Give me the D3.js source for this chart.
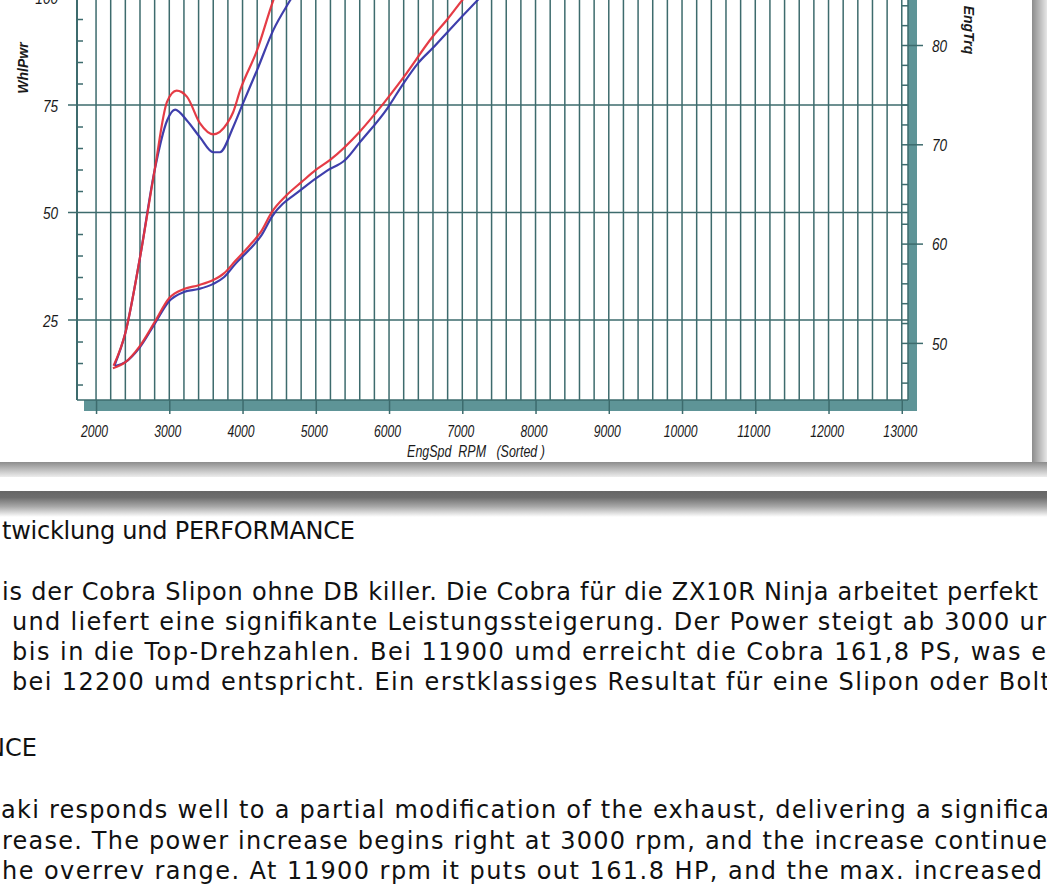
<!DOCTYPE html>
<html><head><meta charset="utf-8">
<script src="https://cdn.jsdelivr.net/npm/d3@7"></script>
<style>html,body{margin:0;padding:0;background:#fff;overflow:hidden}svg{display:block}</style>
</head><body>
<svg id="c" width="1047" height="885"></svg>
<script>
// ---------------- data ----------------
const rpmTicks = [2000,3000,4000,5000,6000,7000,8000,9000,10000,11000,12000,13000];
const whlPwrTicks = [25,50,75,100];
const engTrqTicks = [50,60,70,80,90];
const xTitle = "EngSpd  RPM   (Sorted )";
const yLeftTitle = "WhlPwr";
const yRightTitle = "EngTrq";

// wheel power (left axis)
const powerRedRpm = [2230,2400,2600,2800,3000,3200,3400,3600,3750,3900,4100,4250,4400,4600,4800,5000,5200,5600,5850,6200,6600,6800,7000,7300];
const powerRed    = [13.8,15.2,19.0,24.5,30.1,32.2,33.1,34.3,35.9,38.7,42.4,45.5,50.1,54.0,57.0,59.9,62.3,68.8,73.8,81.5,91.0,95.0,99.4,105.5];
const powerBlueRpm = [2260,2400,2600,2800,3000,3200,3400,3600,3750,3900,4100,4250,4400,4800,5150,5400,5600,5980,6200,6400,6600,6800,7210,7500];
const powerBlue    = [14.3,15.2,18.7,24.1,29.4,31.5,32.2,33.4,35.0,38.0,41.5,44.5,49.0,55.3,59.7,62.2,66.3,74.3,80.1,84.8,88.3,92.0,99.4,104.5];

// engine torque (right axis)
const torqueRedRpm = [2240,2400,2600,2800,2970,3100,3240,3420,3600,3790,3870,3970,4200,4420,4650];
const torqueRed    = [47.7,51.0,58.6,67.4,74.3,75.4,74.8,72.1,71.0,72.1,73.2,75.5,79.5,84.5,88.5];
const torqueBlueRpm = [2250,2400,2600,2800,2970,3080,3240,3420,3600,3690,3870,4010,4200,4420,4650,4900];
const torqueBlue    = [47.7,51.0,58.6,67.4,72.4,73.5,72.4,70.7,69.2,69.2,71.7,74.2,77.5,81.5,84.5,87.5];

// text below the chart (visible part)
const textLines = [
  "twicklung und PERFORMANCE",
  "is der Cobra Slipon ohne DB killer. Die Cobra für die ZX10R Ninja arbeitet perfekt",
  "und liefert eine signifikante Leistungssteigerung. Der Power steigt ab 3000 ur",
  "bis in die Top-Drehzahlen. Bei 11900 umd erreicht die Cobra 161,8 PS, was e",
  "bei 12200 umd entspricht. Ein erstklassiges Resultat für eine Slipon oder Bolt",
  "NCE",
  "aki responds well to a partial modification of the exhaust, delivering a significa",
  "rease. The power increase begins right at 3000 rpm, and the increase continue",
  "he overrev range. At 11900 rpm it puts out 161.8 HP, and the max. increased"
];

// ---------------- layout ----------------
const W = 1047, H = 885;
const L = 77, R = 908, B = 400, T = -160;
const GRID = "#3d6b6d", BAND = "#5e9497";
const RED = "#e4323c", BLUE = "#3535a8";

const svg = d3.select("#c");
const defs = svg.append("defs");
function vgrad(id, stops, horiz){
  const g = defs.append("linearGradient").attr("id", id)
    .attr("x1",0).attr("y1",0).attr("x2", horiz?1:0).attr("y2", horiz?0:1);
  stops.forEach(s => g.append("stop").attr("offset", s[0]).attr("stop-color", s[1]));
}
vgrad("shR", [[0,"#8c8c8c"],[0.5,"#b9b9b9"],[1,"#e6e6e6"]], true);
vgrad("shB", [[0,"#8c8c8c"],[0.5,"#bdbdbd"],[1,"#ededed"]], false);
vgrad("band", [[0,"#666"],[0.25,"#6e6e6e"],[0.6,"#a8a8a8"],[1,"#fff"]], false);

svg.append("rect").attr("width",W).attr("height",H).attr("fill","#fff");
// card + shadows
svg.append("rect").attr("x",1032).attr("y",-20).attr("width",15).attr("height",497).attr("fill","url(#shR)");
svg.append("rect").attr("x",-20).attr("y",462).attr("width",1067).attr("height",15).attr("fill","url(#shB)");
svg.append("rect").attr("x",-20).attr("y",-20).attr("width",1052).attr("height",482).attr("fill","#fff");
svg.append("rect").attr("x",0).attr("y",491).attr("width",W).attr("height",26).attr("fill","url(#band)");

// scales
const x = d3.scaleLinear([1740, 13085], [L, R]);
const yL = d3.scaleLinear([6.4, 100], [B, -2.5]);
const yR = d3.scaleLinear([44.25, 80], [B, 45]);

const g = svg.append("g");

// teal bands (3D frame)
g.append("rect").attr("x", L+7).attr("y", B).attr("width", R+9-(L+7)).attr("height", 11).attr("fill", BAND);
g.append("rect").attr("x", R).attr("y", T).attr("width", 9).attr("height", B+11-T).attr("fill", BAND);

// vertical grid every 200 rpm
g.append("g").selectAll("line").data(d3.range(2000, 13001, 200)).join("line")
  .attr("x1", d=>x(d)).attr("x2", d=>x(d)).attr("y1", T).attr("y2", B)
  .attr("stroke", GRID).attr("stroke-width", 1.5);
// horizontal grid at left major ticks
g.append("g").selectAll("line").data(whlPwrTicks).join("line")
  .attr("x1", L-9).attr("x2", R).attr("y1", d=>yL(d)).attr("y2", d=>yL(d))
  .attr("stroke", GRID).attr("stroke-width", 1.5);

// frame
g.append("line").attr("x1",L).attr("x2",L).attr("y1",T).attr("y2",B).attr("stroke",GRID).attr("stroke-width",2);
g.append("line").attr("x1",L).attr("x2",R).attr("y1",B).attr("y2",B).attr("stroke",GRID).attr("stroke-width",1.5);
g.append("line").attr("x1",R).attr("x2",R).attr("y1",T).attr("y2",B).attr("stroke",GRID).attr("stroke-width",1.5);

const labelFont = "'Liberation Sans', Arial, sans-serif";
function styleAxis(sel){
  sel.select(".domain").remove();
  sel.selectAll(".tick line").attr("stroke", GRID).attr("stroke-width", 1.5);
  sel.selectAll("text").attr("fill","#1a1a1a").attr("font-family", labelFont)
    .attr("font-style","italic").attr("font-size", 16);
}

// x axis
const xAxis = g.append("g").attr("transform", `translate(0,${B})`)
  .call(d3.axisBottom(x).tickValues(rpmTicks).tickSize(14).tickFormat(d3.format("d")));
styleAxis(xAxis);
xAxis.selectAll("text").attr("y", null).attr("dy", null)
  .attr("transform", "translate(-2,37) scale(0.76,1)");

// left axis: major + minor
const yAxisL = g.append("g").attr("transform", `translate(${L},0)`)
  .call(d3.axisLeft(yL).tickValues(whlPwrTicks).tickSize(0).tickFormat(d3.format("d")));
styleAxis(yAxisL);
yAxisL.selectAll("text").attr("x", null).attr("dy", "0.36em").attr("font-size", 17)
  .attr("transform", "translate(-19,0) scale(0.8,1)");
const yAxisLminor = g.append("g").attr("transform", `translate(${L},0)`)
  .call(d3.axisRight(yL).tickValues(d3.range(10, 100, 5).filter(v => v % 25 !== 0)).tickSize(6).tickFormat(""));
styleAxis(yAxisLminor);

// right axis: major + minor
const yAxisR = g.append("g").attr("transform", `translate(${R-6},0)`)
  .call(d3.axisRight(yR).tickValues(engTrqTicks).tickSize(21).tickFormat(d3.format("d")));
styleAxis(yAxisR);
yAxisR.selectAll("text").attr("x", null).attr("dy", "0.36em").attr("font-size", 17)
  .attr("transform", "translate(30,0) scale(0.8,1)");
const yAxisRminor = g.append("g").attr("transform", `translate(${R-6},0)`)
  .call(d3.axisRight(yR).tickValues(d3.range(46, 90, 2).filter(v => v % 10 !== 0)).tickSize(6).tickFormat(""));
styleAxis(yAxisRminor);

// axis titles
g.append("text").attr("transform", `translate(476,457) scale(0.78,1)`)
  .attr("text-anchor","middle").attr("font-family", labelFont).attr("font-style","italic")
  .attr("font-size",16).attr("fill","#1a1a1a").style("white-space","pre").text(xTitle);
g.append("text").attr("transform", "translate(28,68) rotate(-90)")
  .attr("text-anchor","middle").attr("font-family", labelFont).attr("font-style","italic").attr("font-weight","bold")
  .attr("font-size",14).attr("fill","#1a1a1a").text(yLeftTitle);
g.append("text").attr("transform", "translate(964,30) rotate(90)")
  .attr("text-anchor","middle").attr("font-family", labelFont).attr("font-style","italic").attr("font-weight","bold")
  .attr("font-size",14).attr("fill","#1a1a1a").text(yRightTitle);

// curves
function drawSeries(rpm, vals, yScale, color){
  const pts = rpm.map((r,i)=>[r, vals[i]]);
  g.append("path").datum(pts)
    .attr("fill","none").attr("stroke", color).attr("stroke-width", 2.2)
    .attr("stroke-linejoin","round").attr("stroke-opacity",0.95)
    .attr("d", d3.line().x(d=>x(d[0])).y(d=>yScale(d[1])).curve(d3.curveMonotoneX));
}
drawSeries(torqueBlueRpm, torqueBlue, yR, BLUE);
drawSeries(torqueRedRpm, torqueRed, yR, RED);
drawSeries(powerBlueRpm, powerBlue, yL, BLUE);
drawSeries(powerRedRpm, powerRed, yL, RED);

// text block
const textLayout = [
  {x:2,  y:539, end:355},
  {x:2,  y:600, end:1038},
  {x:12, y:630, end:1046},
  {x:12, y:660, end:1046},
  {x:12, y:690, end:1050},
  {x:-13,y:756, end:null},
  {x:1,  y:818, end:1049},
  {x:2,  y:849, end:1047},
  {x:2,  y:879, end:1042}
];
const tg = svg.append("g").attr("font-family","'DejaVu Sans', Verdana, sans-serif")
  .attr("font-size",24).attr("fill","#111");
textLines.forEach((t,i)=>{
  const p = textLayout[i];
  const el = tg.append("text").attr("x",p.x).attr("y",p.y).text(t);
  if (p.end) el.attr("textLength", p.end - p.x).attr("lengthAdjust","spacing");
});
</script>
</body></html>
